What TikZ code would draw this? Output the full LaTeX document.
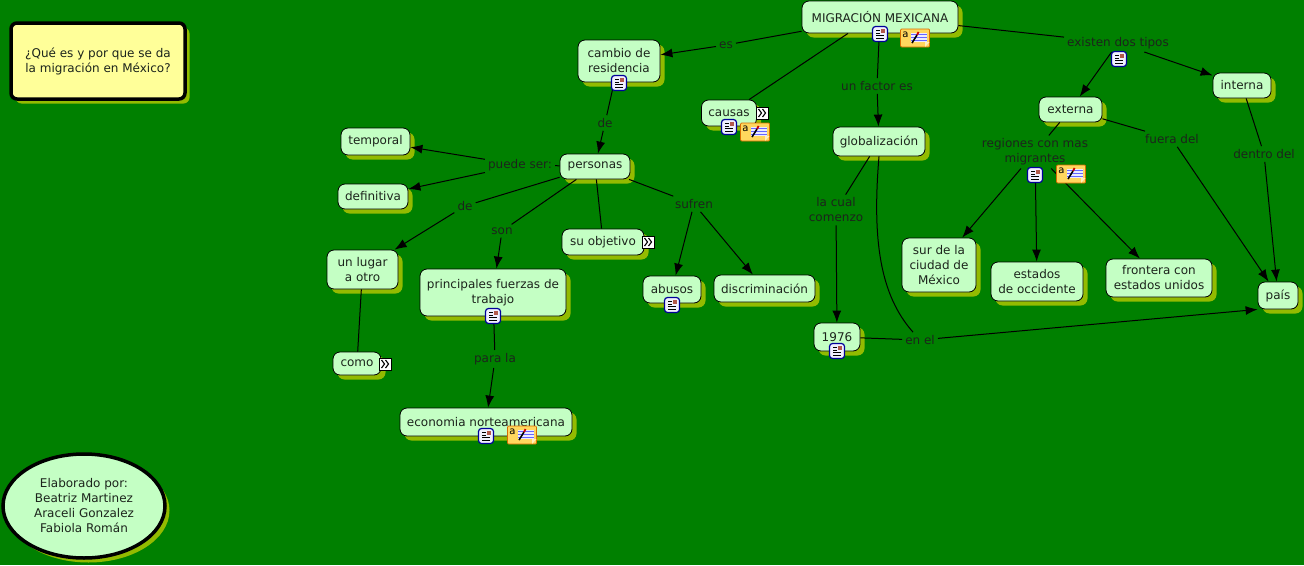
\documentclass[tikz,border=0pt]{standalone}
\usepackage{fontspec}
\setmainfont{DejaVu Sans}
\usepackage{xcolor}
\usetikzlibrary{arrows.meta,shadows,shapes.geometric}
\definecolor{fondo}{HTML}{008000}
\definecolor{verdeclaro}{HTML}{C4FFC4}
\definecolor{sombra}{HTML}{93BB00}
\definecolor{texto}{HTML}{1C241C}
\definecolor{amarillo}{HTML}{FFFF99}
\definecolor{nota}{HTML}{FFD75E}
\tikzset{
  concepto/.style={draw=black, fill=verdeclaro, rounded corners=7pt, line width=0.8pt, align=center,
    text=texto, font=\fontsize{12}{15}\selectfont, inner sep=0pt,
    drop shadow={shadow xshift=4.5pt, shadow yshift=-4.5pt, fill=sombra, opacity=1}},
  enlace/.style={text=texto, align=center, font=\fontsize{12}{15}\selectfont, inner sep=3pt},
  linea/.style={draw=black, line width=1pt},
  flecha/.style={linea, -{Latex[length=12pt,width=9pt]}},
  recurso/.style={draw=blue!60!black, fill=blue!6, rounded corners=3pt, line width=1.2pt, minimum size=15pt, inner sep=0pt},
  anotacion/.style={draw=orange!85!black, fill=nota, line width=0.7pt, rounded corners=1pt, minimum width=29pt, minimum height=18pt, inner sep=0pt},
  expandir/.style={draw=black, fill=white, line width=1pt, minimum size=12pt, inner sep=0pt},
}
% iconos
\newcommand{\iconrecurso}[2]{
  \node[recurso] (#1) at (#2) {};
  \draw[black, line width=0.7pt] ([shift={(-4,-4)}]#1.center) -- ([shift={(0,-4)}]#1.center)
    ([shift={(-4,-1)}]#1.center) -- ([shift={(0,-1)}]#1.center)
    ([shift={(-4,1.5)}]#1.center) -- ([shift={(4,1.5)}]#1.center)
    ([shift={(-4,4)}]#1.center) -- ([shift={(4,4)}]#1.center);
  \fill[orange!70!blue] ([shift={(1,-5)}]#1.center) rectangle ([shift={(5,-1)}]#1.center);
}
\newcommand{\iconnota}[2]{
  \node[anotacion] (#1) at (#2) {};
  \node[inner sep=0pt, text=black, font=\fontsize{10}{10}\selectfont] (#1a) at ([xshift=-9.5pt,yshift=3pt]#1.center) {a};
  \fill[blue!8] ([shift={(-4,-5)}]#1.center) rectangle ([shift={(12,4)}]#1.center);
  \draw[blue!60, line width=0.7pt] ([shift={(-4,-3.5)}]#1.center) -- ([shift={(12,-3.5)}]#1.center)
    ([shift={(-4,-0.5)}]#1.center) -- ([shift={(12,-0.5)}]#1.center)
    ([shift={(-4,2.5)}]#1.center) -- ([shift={(12,2.5)}]#1.center);
  \fill[white!60!nota] ([shift={(14.5,4)}]#1.center) -- ([shift={(10,9)}]#1.center) -- ([shift={(10,4)}]#1.center) -- cycle;
  \draw[black, line width=1.6pt] ([shift={(-3,5)}]#1.center) -- ([shift={(2,-3)}]#1.center);
  \draw[red!80!black, line width=1.8pt] ([shift={(2,-3)}]#1.center) -- ([shift={(3.5,-6)}]#1.center);
}
\newcommand{\iconexpandir}[2]{
  \node[expandir] (#1) at (#2) {};
  \draw[black, line width=1.1pt] ([shift={(-3.5,-4)}]#1.center) -- ([shift={(-0.5,0)}]#1.center) -- ([shift={(-3.5,4)}]#1.center)
    ([shift={(0.5,-4)}]#1.center) -- ([shift={(3.5,0)}]#1.center) -- ([shift={(0.5,4)}]#1.center);
}
\begin{document}
\begin{tikzpicture}[x=1pt,y=-1pt]
  \fill[fondo] (0,0) rectangle (1304,565);
  \useasboundingbox (0,0) rectangle (1304,565);

  % recuadros de la izquierda
  \node[concepto, fill=amarillo, line width=3.5pt, rounded corners=6pt, minimum width=174pt, minimum height=76pt] (pregunta) at (98,61) {¿Qué es y por que se da\\la migración en México?};
  \node[concepto, ellipse, line width=3.5pt, minimum width=162pt, minimum height=104pt] (autoras) at (84,506) {Elaborado por:\\Beatriz Martinez\\Araceli Gonzalez\\Fabiola Román};

  % conceptos
  \node[concepto, minimum width=156pt, minimum height=32pt] (migracion) at (880,17) {MIGRACIÓN MEXICANA};
  \node[concepto, minimum width=82pt, minimum height=42pt] (cambio) at (619,61) {cambio de\\residencia};
  \node[concepto, minimum width=55pt, minimum height=26pt] (causas) at (729,113) {causas};
  \node[concepto, minimum width=92pt, minimum height=29pt] (globalizacion) at (879,141.5) {globalización};
  \node[concepto, minimum width=69pt, minimum height=27pt] (temporal) at (375.5,141.5) {temporal};
  \node[concepto, minimum width=70pt, minimum height=25pt] (definitiva) at (373,196.5) {definitiva};
  \node[concepto, minimum width=70pt, minimum height=25pt] (personas) at (595,166.5) {personas};
  \node[concepto, minimum width=63pt, minimum height=25pt] (externa) at (1070.5,109.5) {externa};
  \node[concepto, minimum width=58pt, minimum height=25pt] (interna) at (1242,85.5) {interna};
  \node[concepto, minimum width=71pt, minimum height=39pt] (lugar) at (362.5,269.5) {un lugar\\a otro};
  \node[concepto, minimum width=146pt, minimum height=47pt] (fuerzas) at (493,292.5) {principales fuerzas de\\trabajo};
  \node[concepto, minimum width=82pt, minimum height=26pt] (objetivo) at (603,242) {su objetivo};
  \node[concepto, minimum width=58pt, minimum height=27pt] (abusos) at (672,289.5) {abusos};
  \node[concepto, minimum width=101pt, minimum height=27pt] (discriminacion) at (764.5,288.5) {discriminación};
  \node[concepto, minimum width=74pt, minimum height=54pt] (sur) at (939,265) {sur de la\\ciudad de\\México};
  \node[concepto, minimum width=92pt, minimum height=39pt] (occidente) at (1037,281.5) {estados\\de occidente};
  \node[concepto, minimum width=106pt, minimum height=38pt] (frontera) at (1159,278) {frontera con\\estados unidos};
  \node[concepto, minimum width=40pt, minimum height=27pt] (pais) at (1278,295.5) {país};
  \node[concepto, minimum width=46pt, minimum height=28pt] (anio) at (837,337) {1976};
  \node[concepto, minimum width=48pt, minimum height=23pt] (como) at (357,363.5) {como};
  \node[concepto, minimum width=172pt, minimum height=28pt] (economia) at (486,422) {economia norteamericana};

  % frases de enlace
  \node[enlace] (es) at (726,45) {es};
  \node[enlace] (factor) at (877,86) {un factor es};
  \node[enlace] (tipos) at (1118,43) {existen dos tipos};
  \node[enlace] (regiones) at (1035,152) {regiones con mas\\migrantes};
  \node[enlace] (fuera) at (1172,139) {fuera del};
  \node[enlace] (dentro) at (1264,154) {dentro del};
  \node[enlace] (cual) at (836,210) {la cual\\comenzo};
  \node[enlace] (enel) at (920,340) {en el};
  \node[enlace] (de) at (605,123) {de};
  \node[enlace] (puede) at (520,165) {puede ser:};
  \node[enlace] (delugar) at (465,206) {de};
  \node[enlace] (son) at (502,231) {son};
  \node[enlace] (sufren) at (694,204) {sufren};
  \node[enlace] (para) at (495,359) {para la};

  % conectores
  \draw[linea] (migracion) -- (es);
  \draw[flecha] (es) -- (cambio);
  \draw[linea] ([xshift=-32pt]migracion.south) -- (causas);
  \draw[linea] (migracion) -- (factor);
  \draw[flecha] (factor) -- (globalizacion);
  \draw[linea] (migracion) -- (tipos);
  \draw[flecha] (tipos) -- (externa);
  \draw[flecha] (tipos) -- (interna);
  \draw[linea] (externa) -- (regiones);
  \draw[flecha] (regiones) -- (sur);
  \draw[flecha] (regiones) -- (occidente);
  \draw[flecha] (regiones) -- (frontera);
  \draw[linea] (externa) -- (fuera);
  \draw[flecha] (fuera) -- (pais);
  \draw[linea] (interna) -- (dentro);
  \draw[flecha] (dentro) -- (pais);
  \draw[linea] (globalizacion) -- (cual);
  \draw[flecha] (cual) -- (anio);
  \draw[linea] (globalizacion.south) .. controls (872,240) and (880,295) .. (enel);
  \draw[linea] (anio) -- (enel);
  \draw[flecha] (enel) -- (pais.south west);
  \draw[linea] (cambio) -- (de);
  \draw[flecha] (de) -- (personas);
  \draw[linea] (personas) -- (puede);
  \draw[flecha] (puede) -- (temporal);
  \draw[flecha] (puede) -- (definitiva);
  \draw[linea] (personas) -- (delugar);
  \draw[flecha] (delugar) -- (lugar);
  \draw[linea] (personas) -- (son);
  \draw[flecha] (son) -- (fuerzas);
  \draw[linea] (personas) -- (objetivo);
  \draw[linea] (personas) -- (sufren);
  \draw[flecha] (sufren) -- (abusos);
  \draw[flecha] (sufren) -- (discriminacion);
  \draw[linea] (lugar) -- (como);
  \draw[linea] (fuerzas) -- (para);
  \draw[flecha] (para) -- (economia);

  % iconos de recursos
  \iconrecurso{resMigracion}{880,34}
  \iconrecurso{resCambio}{619,83}
  \iconrecurso{resCausas}{729,127}
  \iconrecurso{resTipos}{1119,59}
  \iconrecurso{resRegiones}{1035,175}
  \iconrecurso{resAbusos}{672,305}
  \iconrecurso{resFuerzas}{493,316}
  \iconrecurso{resAnio}{837,351}
  \iconrecurso{resEconomia}{486,436}
  \iconnota{notaMigracion}{915,38}
  \iconnota{notaCausas}{755,132}
  \iconnota{notaRegiones}{1071,174}
  \iconnota{notaEconomia}{522,435}
  \iconexpandir{expCausas}{762,113}
  \iconexpandir{expObjetivo}{648,242}
  \iconexpandir{expComo}{385,364}
\end{tikzpicture}
\end{document}
